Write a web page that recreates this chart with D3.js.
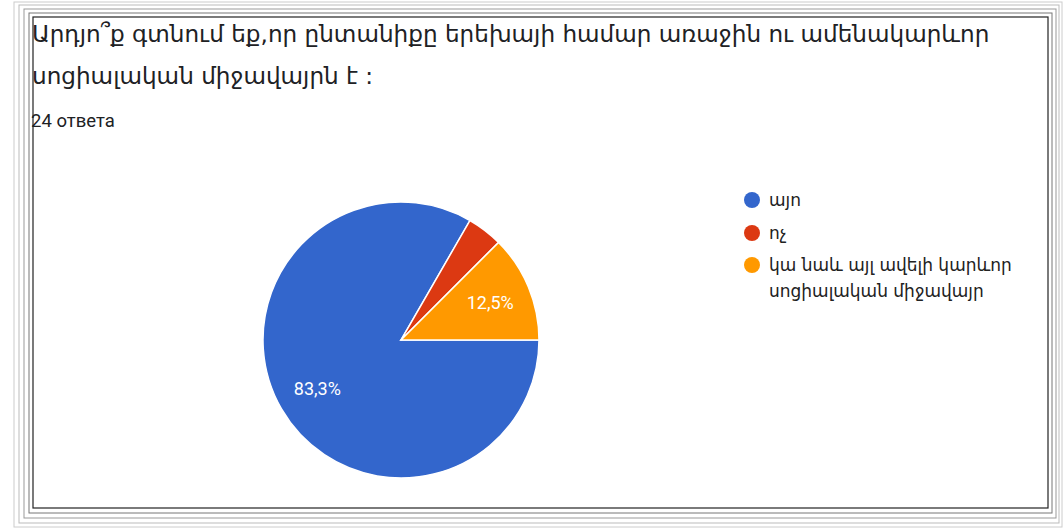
<!DOCTYPE html>
<html><head><meta charset="utf-8">
<script src="https://cdn.jsdelivr.net/npm/d3@7"></script>
<style>body{margin:0;background:#fff;} svg{display:block;}</style>
</head><body>
<svg id="c" width="1064" height="530"></svg>
<script>
const titleLines = ["Արդյո՞ք գտնում եք,որ ընտանիքը երեխայի համար առաջին ու ամենակարևոր", "սոցիալական միջավայրն է :"];
const subtitle = "24 ответа";
const categories = ["այո", "ոչ", "կա նաև այլ ավելի կարևոր սոցիալական միջավայր"];
const legendLines = [["այո"], ["ոչ"], ["կա նաև այլ ավելի կարևոր", "սոցիալական միջավայր"]];
const values = [20, 1, 3];
const labels = ["83,3%", "", "12,5%"];
const colors = ["#3366cc", "#dc3912", "#ff9900"];

const svg = d3.select("#c");

// frame lines
const frames = [
  {x0: 33, y0: 17, x1: 1048, y1: 508, c: "#222", w: 1.2},
  {x0: 29, y0: 13, x1: 1052, y1: 513, c: "#777", w: 1},
  {x0: 24, y0: 9, x1: 1056, y1: 518, c: "#999", w: 1},
  {x0: 19, y0: 5, x1: 1059, y1: 523, c: "#bbb", w: 1},
  {x0: 14, y0: 2, x1: 1062, y1: 527, c: "#ccc", w: 1}
];
svg.selectAll("rect.fr").data(frames).join("rect").attr("class","fr")
  .attr("x", d => d.x0).attr("y", d => d.y0)
  .attr("width", d => d.x1 - d.x0).attr("height", d => d.y1 - d.y0)
  .attr("fill", "none").attr("stroke", d => d.c).attr("stroke-width", d => d.w);

// title
const font = "'DejaVu Sans', 'Noto Sans', sans-serif";
const t1 = svg.append("text").attr("x", 32).attr("y", 42).attr("font-family", font)
  .attr("font-size", 24).attr("fill", "#202124").text(titleLines[0]);
const w = t1.node().getComputedTextLength();
const fs = 24 * 958 / w;
t1.attr("font-size", fs);
svg.append("text").attr("x", 32).attr("y", 84).attr("font-family", font)
  .attr("font-size", fs).attr("fill", "#202124").text(titleLines[1]);
svg.append("text").attr("x", 31).attr("y", 127).attr("font-family", "Roboto, sans-serif")
  .attr("font-size", 18.5).attr("fill", "#202124").text(subtitle);

// pie
const cx = 401, cy = 340, r = 138;
const pie = d3.pie().sort(null).startAngle(Math.PI/2).endAngle(Math.PI/2 + 2*Math.PI)(values);
const arc = d3.arc().innerRadius(0).outerRadius(r);
const g = svg.append("g").attr("transform", `translate(${cx},${cy})`);
g.selectAll("path").data(pie).join("path")
  .attr("d", arc).attr("fill", (d,i) => colors[i])
  .attr("stroke", "#fff").attr("stroke-width", 1.5);
const lab = d3.arc().innerRadius(r*0.7).outerRadius(r*0.7);
g.selectAll("text").data(pie).join("text")
  .attr("transform", d => `translate(${lab.centroid(d)})`)
  .attr("text-anchor", "middle").attr("dy", "0.35em")
  .attr("font-family", "Roboto, sans-serif").attr("font-size", 18).attr("fill", "#fff")
  .text((d,i) => labels[i]);

// legend
const ly = [200, 233, 265];
const lg = svg.append("g");
legendLines.forEach((lines, i) => {
  lg.append("circle").attr("cx", 752).attr("cy", ly[i]).attr("r", 8).attr("fill", colors[i]);
  lines.forEach((s, j) => {
    lg.append("text").attr("x", 769).attr("y", ly[i] + j*26).attr("dy", "0.35em")
      .attr("font-family", font).attr("font-size", 17).attr("fill", "#222").text(s);
  });
});
</script>
</body></html>
